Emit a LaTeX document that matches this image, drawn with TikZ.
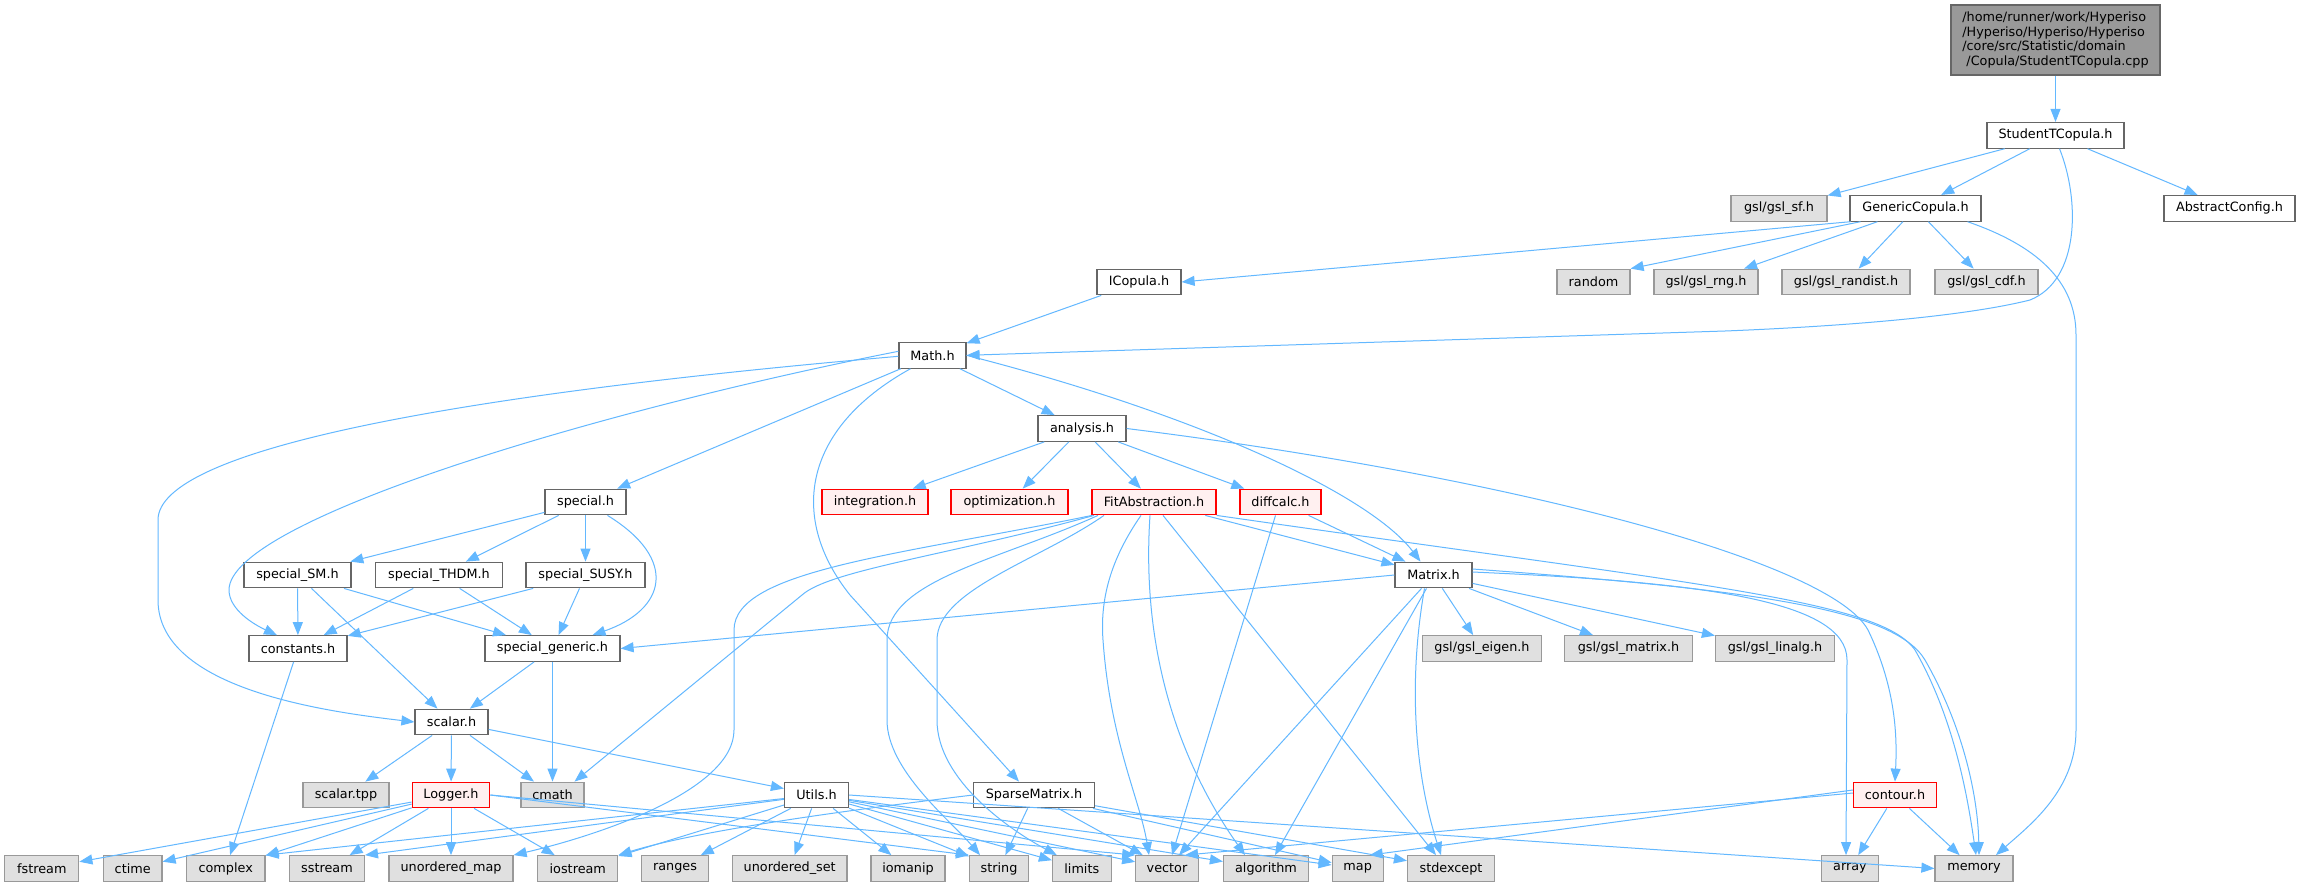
\documentclass[tikz,border=0pt]{standalone}
\usepackage{fontspec}
\setmainfont{DejaVu Sans}
\usetikzlibrary{arrows.meta}
\definecolor{edgec}{HTML}{63B8FF}
\definecolor{gfour}{HTML}{666666}
\definecolor{gsix}{HTML}{999999}
\definecolor{extfill}{HTML}{E0E0E0}
\definecolor{redfill}{HTML}{FFF0F0}
\definecolor{redline}{HTML}{FF0000}
\tikzset{
  basebox/.style={rectangle, inner sep=0pt, minimum height=25.6pt, line width=1.2pt,
    font=\fontsize{12.8}{14.8}\selectfont, text=black},
  doc/.style={basebox, draw=gfour, fill=white},
  ext/.style={basebox, draw=gsix, fill=extfill},
  trunc/.style={basebox, draw=redline, fill=redfill},
  rootbox/.style={basebox, draw=gfour, fill=gsix, align=left},
  edge/.style={draw=edgec, line width=1pt, -{Triangle[length=13pt,width=10pt]}},
}
\begin{document}
\begin{tikzpicture}[x=1pt,y=-1pt]
\useasboundingbox[fill=white] (0,0) rectangle (2299,887);
% rows
\node[rootbox, minimum width=209, minimum height=70] (root) at (2055.5,40) {/home/runner/work/Hyperiso\\/Hyperiso/Hyperiso/Hyperiso\\/core/src/Statistic/domain\\\ /Copula/StudentTCopula.cpp};
\node[doc, minimum width=137] (stc) at (2055.5,135.3) {StudentTCopula.h};
\node[ext, minimum width=96] (gslsf) at (1779,208.3) {gsl/gsl\_sf.h};
\node[doc, minimum width=131] (gen) at (1915.5,208.3) {GenericCopula.h};
\node[doc, minimum width=131] (abs) at (2229.5,208.3) {AbstractConfig.h};
\node[doc, minimum width=84] (icop) at (1139,282) {ICopula.h};
\node[ext, minimum width=73] (random) at (1593.5,282) {random};
\node[ext, minimum width=104] (rng) at (1706,282) {gsl/gsl\_rng.h};
\node[ext, minimum width=128] (randist) at (1846,282) {gsl/gsl\_randist.h};
\node[ext, minimum width=103] (cdf) at (1986.5,282) {gsl/gsl\_cdf.h};
\node[doc, minimum width=67] (math) at (932.5,355.3) {Math.h};
\node[doc, minimum width=88] (analysis) at (1082,428.5) {analysis.h};
\node[doc, minimum width=81] (special) at (585.5,502) {special.h};
\node[trunc, minimum width=106] (integ) at (875,502) {integration.h};
\node[trunc, minimum width=117] (optim) at (1009.5,502) {optimization.h};
\node[trunc, minimum width=124] (fit) at (1154,502) {FitAbstraction.h};
\node[trunc, minimum width=81] (diff) at (1280.5,502) {diffcalc.h};
\node[doc, minimum width=107] (sm) at (297.5,575) {special\_SM.h};
\node[doc, minimum width=127.5] (thdm) at (439,575) {special\_THDM.h};
\node[doc, minimum width=119] (susy) at (585.5,575) {special\_SUSY.h};
\node[doc, minimum width=77] (matrix) at (1433.5,575) {Matrix.h};
\node[doc, minimum width=98] (const) at (298,648.5) {constants.h};
\node[doc, minimum width=135] (sgen) at (552.5,648.5) {special\_generic.h};
\node[ext, minimum width=119] (eigen) at (1482,648.5) {gsl/gsl\_eigen.h};
\node[ext, minimum width=127.6] (gmatrix) at (1628.5,648.5) {gsl/gsl\_matrix.h};
\node[ext, minimum width=119] (linalg) at (1775,648.5) {gsl/gsl\_linalg.h};
\node[doc, minimum width=73] (scalar) at (451.5,722) {scalar.h};
\node[ext, minimum width=86] (stpp) at (346,795) {scalar.tpp};
\node[trunc, minimum width=77.5] (logger) at (451,795) {Logger.h};
\node[ext, minimum width=63] (cmath) at (552.5,795) {cmath};
\node[doc, minimum width=64] (utils) at (816.5,795) {Utils.h};
\node[doc, minimum width=121] (sparse) at (1034,795) {SparseMatrix.h};
\node[trunc, minimum width=83] (contour) at (1895,795) {contour.h};
\node[ext, minimum width=74] (fstream) at (41.8,868.5) {fstream};
\node[ext, minimum width=58.6] (ctime) at (132.7,868.5) {ctime};
\node[ext, minimum width=78.7] (complex) at (225.7,868.5) {complex};
\node[ext, minimum width=74.8] (sstream) at (327,868.5) {sstream};
\node[ext, minimum width=124] (umap) at (451,868.5) {unordered\_map};
\node[ext, minimum width=80] (iostream) at (577.8,868.5) {iostream};
\node[ext, minimum width=67] (ranges) at (675,868.5) {ranges};
\node[ext, minimum width=114.7] (uset) at (789.7,868.5) {unordered\_set};
\node[ext, minimum width=74] (iomanip) at (908,868.5) {iomanip};
\node[ext, minimum width=59] (string) at (999,868.5) {string};
\node[ext, minimum width=58.6] (limits) at (1081.8,868.5) {limits};
\node[ext, minimum width=62.4] (vector) at (1167,868.5) {vector};
\node[ext, minimum width=85] (algorithm) at (1266,868.5) {algorithm};
\node[ext, minimum width=51] (map) at (1357.7,868.5) {map};
\node[ext, minimum width=87] (stdexcept) at (1451,868.5) {stdexcept};
\node[ext, minimum width=57] (array) at (1850,868.5) {array};
\node[ext, minimum width=78] (memory) at (1974,868.5) {memory};

% edges top
\draw[edge] (root) -- (stc);
\draw[edge] (stc) -- (gslsf);
\draw[edge] (stc) -- (gen);
\draw[edge] (stc) -- (abs);
\draw[edge] ([xshift=4]stc.south) .. controls (2080,200) and (2080,280) .. (2030,300) .. controls (1950,320) and (1800,328) .. (1725,331) -- (math.east);
\draw[edge] ([xshift=-65]gen.south) -- (icop.east);
\draw[edge] ([xshift=-55]gen.south) -- (random.north east);
\draw[edge] (gen) -- (rng);
\draw[edge] (gen) -- (randist);
\draw[edge] (gen) -- (cdf);
\draw[edge] ([xshift=52]gen.south) .. controls (2035,245) and (2076,280) .. (2076,335) -- (2076,730) .. controls (2076,790) and (2030,825) .. ([xshift=22]memory.north);
\draw[edge] (icop) -- (math);
% Math
\draw[edge] (math) -- (analysis);
\draw[edge] (math) -- (special);
\draw[edge] (math.east) .. controls (1200,415) and (1370,495) .. ([xshift=-13]matrix.north);
\draw[edge] ([xshift=-22]math.south) .. controls (800,430) and (790,520) .. (850,595) -- ([xshift=-15]sparse.north);
\draw[edge] ([yshift=4]math.west) .. controls (600,410) and (229,520) .. (229,590) .. controls (229,610) and (255,625) .. ([xshift=-21]const.north);
\draw[edge] ([yshift=-1]math.west) .. controls (450,395) and (158,450) .. (158,520) -- (158,600) .. controls (158,690) and (330,712) .. (scalar.west);
% analysis
\draw[edge] (analysis) -- (integ);
\draw[edge] (analysis) -- (optim);
\draw[edge] (analysis) -- (fit);
\draw[edge] (analysis) -- (diff);
\draw[edge] (analysis.east) .. controls (1500,475) and (1830,560) .. (1868,630) .. controls (1897,690) and (1897,740) .. (contour.north);
% special
\draw[edge] (special) -- (sm);
\draw[edge] (special) -- (thdm);
\draw[edge] (special) -- (susy);
\draw[edge] ([xshift=22]special.south) .. controls (680,560) and (665,610) .. ([xshift=40]sgen.north);
\draw[edge] (sm) -- (const);
\draw[edge] (sm) -- (sgen);
\draw[edge] (sm) -- (scalar);
\draw[edge] (thdm) -- (const);
\draw[edge] (thdm) -- (sgen);
\draw[edge] (susy) -- (const);
\draw[edge] (susy) -- (sgen);
\draw[edge] (const) -- (complex);
\draw[edge] (sgen) -- (scalar);
\draw[edge] (sgen) -- (cmath);
% scalar
\draw[edge] (scalar) -- (stpp);
\draw[edge] (scalar) -- (logger);
\draw[edge] (scalar) -- (cmath);
\draw[edge] (scalar) -- (utils);
% diffcalc
\draw[edge] (diff) -- (matrix);
\draw[edge] ([xshift=-5]diff.south) -- ([xshift=5]vector.north);
% FitAbstraction
\draw[edge] (fit) -- (matrix);
\draw[edge] ([xshift=9]fit.south) -- ([xshift=-15]stdexcept.north);
\draw[edge] ([xshift=-60]fit.south) .. controls (950,555) and (830,570) .. (802,595) -- ([xshift=22]cmath.north);
\draw[edge] ([xshift=-62]fit.south) .. controls (900,555) and (734,570) .. (734,630) -- (734,730) .. controls (734,790) and (600,835) .. (umap.north east);
\draw[edge] ([xshift=-56]fit.south) .. controls (1000,560) and (887,580) .. (887,640) -- (887,720) .. controls (887,770) and (950,820) .. ([xshift=-19]string.north);
\draw[edge] ([xshift=-50]fit.south) .. controls (1040,560) and (937,590) .. (937,640) -- (937,720) .. controls (937,780) and (1010,830) .. ([xshift=-25]limits.north);
\draw[edge] ([xshift=-13]fit.south) .. controls (1110,560) and (1100,600) .. (1103,640) .. controls (1110,740) and (1140,800) .. ([xshift=-18]vector.north);
\draw[edge] ([xshift=-4]fit.south) .. controls (1145,590) and (1150,720) .. ([xshift=-21]algorithm.north);
\draw[edge] (fit.south east) .. controls (1700,585) and (1880,600) .. (1915,650) .. controls (1955,720) and (1968,800) .. ([xshift=2]memory.north);
% Matrix
\draw[edge] (matrix.west) -- (sgen.east);
\draw[edge] (matrix) -- (eigen);
\draw[edge] (matrix) -- (gmatrix);
\draw[edge] (matrix) -- (linalg);
\draw[edge] ([xshift=-12]matrix.south) -- ([xshift=12]vector.north);
\draw[edge] ([xshift=-7]matrix.south) -- ([xshift=9]algorithm.north);
\draw[edge] ([xshift=-9]matrix.south) .. controls (1405,700) and (1420,790) .. ([xshift=-10]stdexcept.north);
\draw[edge] ([yshift=3]matrix.east) .. controls (1700,582) and (1847,600) .. (1847,660) -- ([xshift=-4]array.north);
\draw[edge] ([yshift=6]matrix.east) .. controls (1760,590) and (1895,610) .. (1925,660) .. controls (1965,730) and (1978,800) .. ([xshift=5]memory.north);
% contour
\draw[edge] (contour) -- (array);
\draw[edge] (contour) -- (memory);
\draw[edge] ([yshift=2]contour.west) -- ([xshift=18]vector.north);
\draw[edge] ([yshift=5]contour.west) -- ([xshift=12]map.north);
% Logger
\draw[edge] (logger) -- (fstream);
\draw[edge] (logger) -- (ctime);
\draw[edge] (logger) -- (complex);
\draw[edge] (logger) -- (sstream);
\draw[edge] (logger) -- (umap);
\draw[edge] (logger) -- (iostream);
\draw[edge] (logger.east) -- (string.north west);
\draw[edge] (logger.east) -- (vector.north west);
% Utils
\draw[edge] (utils) -- (complex.north east);
\draw[edge] (utils) -- (sstream.north east);
\draw[edge] (utils) -- (iostream);
\draw[edge] (utils) -- (ranges);
\draw[edge] (utils) -- (uset);
\draw[edge] (utils) -- (iomanip);
\draw[edge] (utils) -- (string);
\draw[edge] (utils) -- (limits);
\draw[edge] (utils) -- (vector);
\draw[edge] (utils) -- (algorithm);
\draw[edge] (utils) -- (map);
\draw[edge] (utils.east) -- (memory.west);
% Sparse
\draw[edge] (sparse.west) .. controls (850,810) and (700,830) .. (iostream.north east);
\draw[edge] (sparse) -- (string);
\draw[edge] (sparse) -- (vector);
\draw[edge] (sparse) -- (map);
\draw[edge] (sparse) -- (stdexcept);
\end{tikzpicture}
\end{document}
